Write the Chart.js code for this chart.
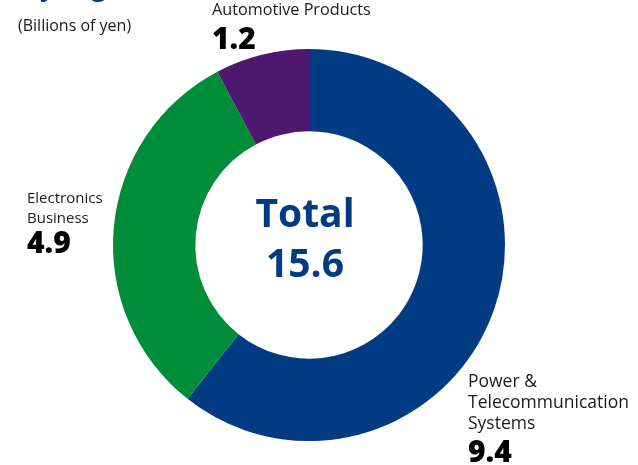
<!DOCTYPE html>
<html>
<head>
<meta charset="utf-8">
<script src="https://cdn.jsdelivr.net/npm/chart.js@4/dist/chart.umd.min.js"></script>
<style>
  html, body { margin: 0; padding: 0; background: #ffffff; }
  #wrap { width: 638px; height: 465px; position: relative; }
</style>
</head>
<body>
<div id="wrap"><canvas id="chart" width="638" height="465"></canvas></div>
<script>
// Segment breakdown (billions of yen)
const segments = ['Power & Telecommunication Systems', 'Electronics Business', 'Automotive Products'];
const segmentLabelLines = [['Power &', 'Telecommunication', 'Systems'], ['Electronics', 'Business'], ['Automotive Products']];
const segmentValues = [9.4, 4.9, 1.2];
const segmentColors = ['#003b84', '#008d3a', '#4e186e'];
const totalLabel = 'Total';
const totalValue = '15.6';
const unitLabel = '(Billions of yen)';
const titleText = 'by Segment';

const FONT = '"Open Sans", "Noto Sans", sans-serif';

// Text labels placed around the ring plus the total in the centre
const labelPlugin = {
  id: 'segmentLabels',
  afterDraw(chart) {
    const ctx = chart.ctx;
    const arc = chart.getDatasetMeta(0).data[0];
    const cx = arc.x;
    ctx.save();
    ctx.textBaseline = 'alphabetic';
    ctx.textAlign = 'left';

    // heading (runs off the top edge)
    ctx.fillStyle = '#003b84';
    ctx.font = 'bold 26px ' + FONT;
    const bw = ctx.measureText('b').width;
    ctx.fillText(titleText, 40 - bw, -4);

    // unit note
    ctx.fillStyle = '#1a1a1a';
    ctx.font = '16px ' + FONT;
    ctx.fillText(unitLabel, 18, 31);

    // label blocks: [x, first baseline, line gap, value baseline, font size]
    const spots = [
      [468, 387, 21, 462, 17.5],
      [27, 203, 19.5, 253, 15],
      [212, 15, 21, 49, 16.2]
    ];
    segmentLabelLines.forEach((lines, i) => {
      const [x, y0, gap, yv, fs] = spots[i];
      ctx.fillStyle = '#1a1a1a';
      ctx.font = fs + 'px ' + FONT;
      lines.forEach((ln, j) => ctx.fillText(ln, x, y0 + j * gap));
      ctx.fillStyle = '#000000';
      ctx.font = '800 30px ' + FONT;
      ctx.fillText(segmentValues[i].toFixed(1), x, yv);
    });

    // centre total
    ctx.fillStyle = '#003b84';
    ctx.textAlign = 'center';
    ctx.font = 'bold 39px ' + FONT;
    ctx.fillText(totalLabel, cx - 4, 227);
    ctx.fillText(totalValue, cx - 4, 277);
    ctx.restore();
  }
};

new Chart(document.getElementById('chart'), {
  type: 'doughnut',
  data: {
    labels: segments,
    datasets: [{
      data: segmentValues,
      backgroundColor: segmentColors,
      borderWidth: 0
    }]
  },
  options: {
    responsive: false,
    animation: false,
    cutout: '58%',
    layout: { padding: { top: 49, bottom: 24, left: 113, right: 133 } },
    plugins: {
      legend: { display: false },
      tooltip: { enabled: false }
    }
  },
  plugins: [labelPlugin]
});
</script>
</body>
</html>
